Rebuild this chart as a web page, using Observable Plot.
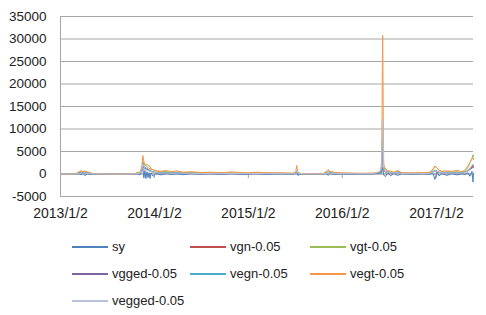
<!DOCTYPE html>
<html><head><meta charset="utf-8">
<script src="https://cdn.jsdelivr.net/npm/d3@7"></script>
<script src="https://cdn.jsdelivr.net/npm/@observablehq/plot@0.6"></script>
<style>
body{margin:0;background:#fff;font-family:"Liberation Sans",Arial,sans-serif;}
#wrap{width:486px;height:315px;position:relative;overflow:hidden;background:#fff}
#chart svg{display:block}
.legend{display:grid;grid-template-columns:118px 120px 120px;margin-left:72px;padding-top:8px}
.item{display:flex;align-items:center;height:27px;font-size:13px;color:#222;white-space:nowrap}
.sw{width:36px;height:2px;margin-right:4px;flex:none}
</style></head><body><div id="wrap"><div id="chart"></div><div class="legend" id="legend"></div></div>
<script>
const seriesNames = ["sy","vgn-0.05","vgt-0.05","vgged-0.05","vegn-0.05","vegt-0.05","vegged-0.05"];
const seriesColors = ["#4F81BD","#C0504D","#9BBB59","#8064A2","#4BACC6","#F79646","#B9C3DD"];
const yTicks = [-5000,0,5000,10000,15000,20000,25000,30000,35000];
const xTickLabels = ["2013-01-02","2014-01-02","2015-01-02","2016-01-02","2017-01-02"];
const xDomain = ["2013-01-02","2017-05-26"];

const dates = [
"2013-01-02","2013-03-01","2013-03-15","2013-03-23","2013-03-31","2013-04-08","2013-04-16","2013-04-24","2013-05-06","2013-07-15",
"2013-10-13","2013-10-25","2013-11-06","2013-11-14","2013-11-18","2013-11-22","2013-11-26","2013-11-30","2013-12-04","2013-12-08",
"2013-12-12","2013-12-16","2013-12-20","2013-12-28","2014-01-08","2014-01-28","2014-02-17","2014-03-08","2014-03-29","2014-04-22",
"2014-05-24","2014-07-02","2014-08-10","2014-09-18","2014-10-27","2014-12-05","2014-12-30","2015-01-31","2015-03-10","2015-05-08",
"2015-06-24","2015-07-05","2015-07-09","2015-07-13","2015-07-25","2015-09-02","2015-10-19","2015-10-31","2015-11-08","2015-11-16",
"2015-12-02","2016-01-02","2016-02-06","2016-03-24","2016-05-02","2016-05-22","2016-05-30","2016-06-03","2016-06-07","2016-06-11",
"2016-06-18","2016-06-26","2016-07-08","2016-07-20","2016-08-04","2016-08-20","2016-09-28","2016-11-06","2016-12-08","2016-12-19",
"2016-12-27","2017-01-04","2017-01-12","2017-01-23","2017-02-12","2017-03-03","2017-03-23","2017-04-11","2017-04-23","2017-05-05",
"2017-05-12","2017-05-20","2017-05-24","2017-05-26"];

const sy = [
0,0,50,-150,100,-400,80,-100,0,0,
0,50,-200,600,1500,-900,800,-1000,500,-800,
300,-1000,200,-500,100,-200,100,-100,50,-150,
50,-50,30,-80,40,-60,-50,50,-80,40,
-50,100,800,-300,0,0,0,100,-300,150,
-100,20,-50,30,50,300,600,200,1500,-200,
-600,300,-400,100,-300,50,-50,40,-100,300,
-1200,500,-400,100,-300,100,-200,50,-100,300,
-500,600,-1800,200];
const vgn = [
0,0,300,350,250,300,200,150,50,0,
0,100,150,800,2000,1500,1200,1300,1000,1100,
800,900,600,500,300,250,300,200,250,200,
200,150,150,120,150,120,100,150,120,100,
80,200,600,200,50,30,30,200,400,250,
150,100,80,60,80,200,300,1000,8000,1000,
500,400,300,200,400,150,100,100,150,500,
800,600,400,300,300,250,300,250,400,800,
1200,1500,1800,1600];
const vgt = [
0,0,450,600,500,650,400,300,100,0,
0,200,300,1200,2800,2300,2000,2200,1900,2100,
1800,1700,1200,900,600,500,550,400,450,350,
300,250,250,200,250,200,200,250,220,200,
150,300,900,300,100,50,60,400,700,450,
300,200,150,120,150,300,400,1500,9000,1500,
900,700,500,300,600,250,200,200,300,900,
1800,1300,800,500,500,450,500,400,700,1500,
2500,3500,4300,3800];
const vgged = [
0,0,250,300,200,280,180,120,40,0,
0,100,120,700,1800,1300,1100,1100,900,1000,
700,800,500,400,250,200,250,180,200,150,
150,120,120,100,120,100,80,120,100,80,
60,150,500,150,40,20,20,150,350,200,
120,80,60,50,60,150,250,800,6000,800,
400,300,250,150,300,100,80,80,120,400,
700,500,350,250,250,200,250,200,350,700,
1000,1300,1500,1400];
const vegn = [
0,0,280,300,250,270,200,150,50,0,
0,100,150,900,2500,1800,1500,1400,1200,1100,
900,800,600,500,300,250,300,200,250,200,
200,150,150,120,150,120,100,150,120,100,
80,200,700,200,50,30,30,200,400,250,
150,100,80,60,80,200,300,1200,10000,1000,
600,400,300,200,400,150,100,100,150,500,
900,700,400,300,300,250,300,250,400,900,
1300,1800,2000,1900];
const vegt = [
0,0,500,700,550,600,450,350,100,0,
0,250,350,1500,4100,2800,2000,1800,1600,1500,
1200,1300,900,1000,700,600,800,500,700,400,
500,350,400,300,450,350,250,400,300,250,
200,400,1900,400,100,60,80,500,1000,600,
350,250,200,150,200,400,600,3000,30800,2000,
1100,800,600,400,800,300,250,300,400,1100,
1700,1400,900,600,700,600,800,500,900,1800,
2600,3300,3600,3200];
const vegged = [
0,0,200,250,200,220,150,120,40,0,
0,80,100,800,2200,1600,1200,1000,900,800,
600,700,500,400,300,200,250,150,200,150,
150,100,120,100,100,100,80,120,100,80,
60,200,900,200,40,20,20,150,400,200,
100,80,60,50,100,500,800,1500,12300,1200,
500,400,300,150,300,100,80,80,120,400,
800,600,350,250,250,200,250,200,350,800,
1200,2000,2200,2000];

const valuesBySeries = [sy, vgn, vgt, vgged, vegn, vegt, vegged];
const rows = [];
seriesNames.forEach((name, k) => {
  dates.forEach((d, i) => rows.push({series: name, date: new Date(d), value: valuesBySeries[k][i]}));
});
const xTicks = xTickLabels.map(d => new Date(d));
const fmt = d3.utcFormat("%Y/%-m/%-d");
const grid = "#a6a6a6";

const chart = Plot.plot({
  width: 486, height: 225,
  marginTop: 16, marginBottom: 29, marginLeft: 60, marginRight: 13,
  x: {type: "utc", domain: xDomain.map(d => new Date(d))},
  y: {domain: [yTicks[0], yTicks[yTicks.length - 1]]},
  color: {domain: seriesNames, range: seriesColors},
  style: {fontFamily: "'Liberation Sans', Arial, sans-serif", color: "#222", background: "#fff"},
  marks: [
    Plot.gridY(yTicks, {stroke: grid, strokeOpacity: 1}),
    Plot.ruleX([new Date(xDomain[0])], {stroke: grid}),
    Plot.axisY(yTicks, {tickSize: 0, tickPadding: 14, tickFormat: d => String(d), fontSize: 13.5, label: null}),
    Plot.axisX(xTicks, {tickSize: 0, tickPadding: 12, tickFormat: fmt, fontSize: 14, label: null}),
    Plot.ruleY([0], {stroke: grid}),
    Plot.ruleX(xTicks, {y1: 0, y2: -1000, stroke: grid}),
    Plot.lineY(rows, {x: "date", y: "value", z: "series", stroke: "series", strokeWidth: 1})
  ]
});
document.getElementById("chart").appendChild(chart);

const legend = document.getElementById("legend");
seriesNames.forEach((name, k) => {
  const item = document.createElement("div");
  item.className = "item";
  const sw = document.createElement("span");
  sw.className = "sw";
  sw.style.background = seriesColors[k];
  const t = document.createElement("span");
  t.textContent = name;
  item.appendChild(sw); item.appendChild(t);
  legend.appendChild(item);
});
</script>
</body></html>
